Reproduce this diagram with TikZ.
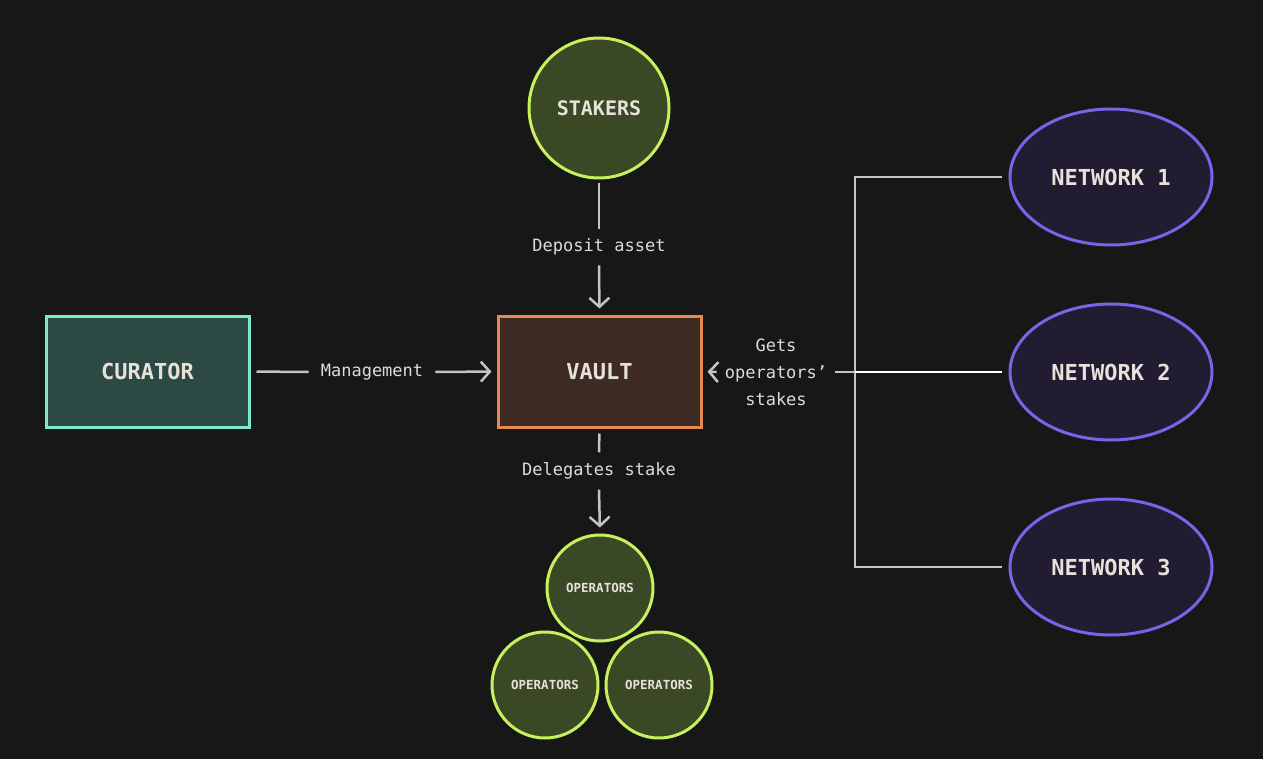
\documentclass[tikz,border=0pt]{standalone}
\usepackage{fontspec}
\newfontfamily\monof{DejaVu Sans Mono}
\usetikzlibrary{arrows.meta,shapes.geometric}
\definecolor{bg}{HTML}{171717}
\definecolor{lineg}{HTML}{C4C4C4}
\definecolor{txt}{HTML}{DCDCDC}
\definecolor{htxt}{HTML}{E6E2DA}
\definecolor{stkF}{HTML}{3A4825}
\definecolor{stkB}{HTML}{C6F15C}
\definecolor{vltF}{HTML}{3E2B24}
\definecolor{vltB}{HTML}{E68A52}
\definecolor{curF}{HTML}{2C4943}
\definecolor{curB}{HTML}{7EE8CE}
\definecolor{netF}{HTML}{221C33}
\definecolor{netB}{HTML}{7C62E6}
\tikzset{
  base/.style={line width=3pt, text=htxt, inner sep=0pt},
  bigtxt/.style={font=\monof\bfseries\fontsize{22}{26}\selectfont},
  boxnode/.style={base, bigtxt, rectangle, minimum width=203pt, minimum height=111pt},
  stknode/.style={base, circle, draw=stkB, fill=stkF, minimum size=140pt, font=\monof\bfseries\fontsize{20}{24}\selectfont},
  opnode/.style={base, circle, draw=stkB, fill=stkF, minimum size=106pt, font=\monof\bfseries\fontsize{12.5}{15}\selectfont},
  netnode/.style={base, bigtxt, ellipse, draw=netB, fill=netF, minimum width=202pt, minimum height=136pt},
  lbl/.style={text=txt, font=\monof\fontsize{17}{27}\selectfont, inner xsep=12pt, inner ysep=10pt},
  conn/.style={draw=lineg, line width=2.5pt},
  arr/.style={conn, -{Straight Barb[length=9pt,width=20pt]}},
}
\begin{document}
\begin{tikzpicture}[x=1pt,y=-1pt]
\useasboundingbox[fill=bg] (0,0) rectangle (1263,759);
% nodes
\node[stknode] (stk) at (599,108) {STAKERS};
\node[boxnode, draw=vltB, fill=vltF] (vault) at (599.5,371.5) {VAULT};
\node[boxnode, draw=curB, fill=curF] (cur) at (147.5,371.5) {CURATOR};
\node[netnode] (net1) at (1111,177) {NETWORK 1};
\node[netnode] (net2) at (1111,372) {NETWORK 2};
\node[netnode] (net3) at (1111,567) {NETWORK 3};
\node[opnode] (op1) at (600,588) {OPERATORS};
\node[opnode] (op2) at (545,685) {OPERATORS};
\node[opnode] (op3) at (659,685) {OPERATORS};
% labels
\node[lbl] (dep) at (599,247) {Deposit asset};
\node[lbl] (mgmt) at (372,372) {Management};
\node[lbl] (del) at (599,471) {Delegates stake};
\node[lbl, align=center, inner xsep=8pt] (gets) at (776,372) {Gets\\operators’\\stakes};
\coordinate (bt) at (855,177);
\coordinate (bm) at (855,372);
\coordinate (bb) at (855,567);
% connectors
\draw[conn, shorten <=4pt] (stk.south) -- (dep.north);
\draw[arr, shorten >=6pt] (dep.south) -- (vault.north);
\draw[conn, shorten <=6pt] (cur.east) -- (mgmt.west);
\draw[arr, shorten >=5pt] (mgmt.east) -- (vault.west);
\draw[conn, shorten <=5pt] (vault.south) -- (del.north);
\draw[arr, shorten >=6pt] (del.south) -- (op1.north);
\draw[arr, shorten >=5pt] (gets.west) -- (vault.east);
\draw[conn, shorten <=7pt, shorten >=7pt] (net1.west) -- (bt) -- (bb) -- (net3.west);
\draw[draw=white, line width=2.5pt, shorten <=7pt] (net2.west) -- (bm);
\draw[conn] (bm) -- (gets.east);
\end{tikzpicture}
\end{document}
